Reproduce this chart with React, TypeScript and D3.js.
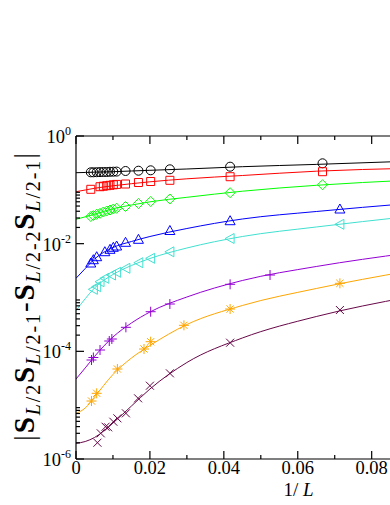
import React from 'react';
import * as d3 from 'd3';

// ---- data ----
const fitX = [0, 0.0025, 0.005, 0.01, 0.015, 0.02, 0.03, 0.045, 0.065, 0.09];

const fitBlack = [0.208, 0.2103, 0.2126, 0.2172, 0.2238, 0.2306, 0.2438, 0.269, 0.2968, 0.3402];
const fitRed = [0.0923, 0.0993, 0.1068, 0.1188, 0.13, 0.141, 0.1603, 0.1846, 0.2219, 0.2512];
const fitGreen = [0.02835, 0.03155, 0.0351, 0.04461, 0.05226, 0.05991, 0.07266, 0.0943, 0.1214, 0.151];
const fitBlue = [0.002273, 0.003456, 0.005189, 0.008485, 0.01097, 0.01358, 0.01912, 0.02871, 0.03958, 0.05572];
const fitCyan = [0.000573, 0.00095, 0.001501, 0.002674, 0.003929, 0.005302, 0.008305, 0.01358, 0.0204, 0.03196];
const fitPurple = [3.06e-5, 4.92e-5, 8.01e-5, 1.845e-4, 3.358e-4, 5.376e-4, 1.021e-3, 2.068e-3, 3.764e-3, 6.706e-3];
const fitOrange = [7.06e-6, 8.85e-6, 1.417e-5, 3.71e-5, 7.51e-5, 1.282e-4, 3.148e-4, 7.1e-4, 1.469e-3, 3.105e-3];
const fitMaroon = [1.955e-6, 2.112e-6, 2.506e-6, 4.66e-6, 9.64e-6, 1.995e-5, 6.2e-5, 1.768e-4, 4.43e-4, 1.021e-3];

const blackX = [0.0667, 0.0417, 0.0254, 0.0202, 0.0169, 0.0134, 0.011, 0.0101, 0.0092, 0.0083, 0.0074, 0.0065, 0.0056, 0.0047, 0.004];
const blackY = [0.3111, 0.269, 0.2406, 0.2306, 0.2266, 0.2238, 0.2182, 0.2172, 0.2163, 0.2144, 0.2144, 0.2135, 0.2126, 0.2117, 0.2117];

const redX = [0.004, 0.0065, 0.0074, 0.0083, 0.0092, 0.0101, 0.011, 0.0134, 0.0169, 0.0202, 0.0254, 0.0417, 0.0667];
const redY = [0.1023, 0.1143, 0.1168, 0.1193, 0.1214, 0.124, 0.1261, 0.1283, 0.1368, 0.1428, 0.1503, 0.1753, 0.2172];

const greenX = [0.0667, 0.0417, 0.0254, 0.0202, 0.0169, 0.0134, 0.011, 0.0101, 0.0092, 0.0083, 0.0074, 0.0065, 0.0056, 0.0047, 0.004];
const greenY = [0.1245, 0.0885, 0.0676, 0.0607, 0.0557, 0.049, 0.0454, 0.044, 0.0422, 0.0404, 0.0387, 0.0366, 0.0351, 0.0333, 0.032];

const blueX = [0.004, 0.0047, 0.0056, 0.0078, 0.0092, 0.0101, 0.011, 0.0134, 0.0169, 0.0254, 0.0417, 0.0714];
const blueY = [0.004372, 0.005035, 0.005724, 0.007087, 0.007858, 0.008558, 0.009049, 0.0106, 0.01205, 0.01756, 0.0267, 0.04404];

const cyanX = [0.0047, 0.0056, 0.0065, 0.0078, 0.0096, 0.011, 0.0135, 0.017, 0.0202, 0.0254, 0.0417, 0.0714];
const cyanY = [0.001419, 0.001586, 0.001965, 0.002273, 0.002617, 0.002937, 0.003485, 0.004429, 0.005346, 0.00706, 0.01247, 0.02289];

const purpleX = [0.0042, 0.0047, 0.0065, 0.009, 0.0097, 0.0135, 0.0202, 0.0254, 0.0417, 0.0525];
const purpleY = [6.9e-5, 7.68e-5, 1.058e-4, 1.555e-4, 1.694e-4, 2.793e-4, 5.445e-4, 7.57e-4, 1.758e-3, 2.617e-3];

const orangeX = [0.0042, 0.0056, 0.0112, 0.0184, 0.0202, 0.0292, 0.0417, 0.0714];
const orangeY = [1.194e-5, 1.66e-5, 4.694e-5, 1.104e-4, 1.51e-4, 3.043e-4, 6.11e-4, 1.834e-3];

const maroonX = [0.0058, 0.0067, 0.008, 0.0087, 0.0101, 0.0112, 0.0135, 0.0168, 0.02, 0.0254, 0.0417, 0.0714];
const maroonY = [2.006e-6, 2.999e-6, 3.977e-6, 3.877e-6, 4.925e-6, 5.697e-6, 7.057e-6, 1.34e-5, 2.298e-5, 3.904e-5, 1.446e-4, 5.855e-4];

const xMajorTicks = [0, 0.02, 0.04, 0.06, 0.08, 0.1];
const xMinorTicks = [0.01, 0.03, 0.05, 0.07, 0.09, 0.11];
const xTickLabels = ['0', '0.02', '0.04', '0.06', '0.08'];
const yMajorExp = [0, -2, -4, -6];
const yMinorMult = [2, 3, 4, 5, 6, 7, 8, 9];

type Shape = 'circle' | 'square' | 'diamond' | 'triUp' | 'triLeft' | 'plus' | 'star' | 'cross';

const series: { color: string; shape: Shape; fit: number[]; px: number[]; py: number[] }[] = [
  { color: '#000000', shape: 'circle', fit: fitBlack, px: blackX, py: blackY },
  { color: '#ff0000', shape: 'square', fit: fitRed, px: redX, py: redY },
  { color: '#00ff00', shape: 'diamond', fit: fitGreen, px: greenX, py: greenY },
  { color: '#0000ff', shape: 'triUp', fit: fitBlue, px: blueX, py: blueY },
  { color: '#40e0d0', shape: 'triLeft', fit: fitCyan, px: cyanX, py: cyanY },
  { color: '#9400d3', shape: 'plus', fit: fitPurple, px: purpleX, py: purpleY },
  { color: '#ffa500', shape: 'star', fit: fitOrange, px: orangeX, py: orangeY },
  { color: '#670748', shape: 'cross', fit: fitMaroon, px: maroonX, py: maroonY },
];

const W = 390;
const H = 505;
const L = 76;
const T = 136;
const B = 459;
const XMAX = 0.12;
const R = L + XMAX * 3696;

function markerPath(shape: Shape, cx: number, cy: number): string {
  const p = d3.path();
  switch (shape) {
    case 'circle':
      p.moveTo(cx + 4.5, cy);
      p.arc(cx, cy, 4.5, 0, Math.PI * 2);
      break;
    case 'square':
      p.rect(cx - 4, cy - 4, 8, 8);
      break;
    case 'diamond':
      p.moveTo(cx, cy - 5);
      p.lineTo(cx + 5, cy);
      p.lineTo(cx, cy + 5);
      p.lineTo(cx - 5, cy);
      p.closePath();
      break;
    case 'triUp':
      p.moveTo(cx, cy - 5);
      p.lineTo(cx + 5, cy + 4);
      p.lineTo(cx - 5, cy + 4);
      p.closePath();
      break;
    case 'triLeft':
      p.moveTo(cx - 5, cy);
      p.lineTo(cx + 4, cy - 5);
      p.lineTo(cx + 4, cy + 5);
      p.closePath();
      break;
    case 'plus':
      p.moveTo(cx - 5, cy);
      p.lineTo(cx + 5, cy);
      p.moveTo(cx, cy - 5);
      p.lineTo(cx, cy + 5);
      break;
    case 'star':
      p.moveTo(cx - 5, cy);
      p.lineTo(cx + 5, cy);
      p.moveTo(cx, cy - 5);
      p.lineTo(cx, cy + 5);
      p.moveTo(cx - 3.6, cy - 3.6);
      p.lineTo(cx + 3.6, cy + 3.6);
      p.moveTo(cx - 3.6, cy + 3.6);
      p.lineTo(cx + 3.6, cy - 3.6);
      break;
    case 'cross':
      p.moveTo(cx - 4, cy - 4);
      p.lineTo(cx + 4, cy + 4);
      p.moveTo(cx - 4, cy + 4);
      p.lineTo(cx + 4, cy - 4);
      break;
  }
  return p.toString();
}

export default function App() {
  const x = d3.scaleLinear().domain([0, XMAX]).range([L, R]);
  const y = d3.scaleLog().domain([1e-6, 1]).range([B, T]);
  const line = d3
    .line<[number, number]>()
    .x((d) => x(d[0]))
    .y((d) => y(d[1]))
    .curve(d3.curveMonotoneX);

  const font = "'Liberation Serif', 'Times New Roman', serif";
  const yMinor: number[] = [];
  yMajorExp.forEach((e) => {
    if (e > -6) yMinorMult.forEach((m) => yMinor.push(m * Math.pow(10, e - 2)));
  });

  return (
    <svg width={W} height={H} style={{ position: 'absolute', left: 0, top: 0, background: '#fff' }} fontFamily={font}>
      <defs>
        <clipPath id="plotclip">
          <rect x={L} y={T} width={R - L} height={B - T} />
        </clipPath>
      </defs>
      <rect x={0} y={0} width={W} height={H} fill="#fff" />

      <g clipPath="url(#plotclip)">
        {series.map((s, i) => (
          <path
            key={'l' + i}
            d={line(fitX.map((v, j) => [v, s.fit[j]] as [number, number])) || ''}
            fill="none"
            stroke={s.color}
            strokeWidth={1}
          />
        ))}
        {series.map((s, i) => (
          <g key={'m' + i}>
            {s.px.map((v, j) => (
              <path key={j} d={markerPath(s.shape, x(v), y(s.py[j]))} fill="none" stroke={s.color} strokeWidth={1} />
            ))}
          </g>
        ))}
      </g>

      {/* frame */}
      <g stroke="#000" strokeWidth={1.2} fill="none">
        <line x1={L} y1={T} x2={R} y2={T} />
        <line x1={L} y1={B} x2={R} y2={B} />
        <line x1={L} y1={T} x2={L} y2={B} />
        <line x1={R} y1={T} x2={R} y2={B} />
        {xMajorTicks.map((t) => (
          <g key={'xM' + t}>
            <line x1={x(t)} x2={x(t)} y1={B} y2={B - 8} />
            <line x1={x(t)} x2={x(t)} y1={T} y2={T + 8} />
          </g>
        ))}
        {xMinorTicks.map((t) => (
          <g key={'xm' + t}>
            <line x1={x(t)} x2={x(t)} y1={B} y2={B - 4} />
            <line x1={x(t)} x2={x(t)} y1={T} y2={T + 4} />
          </g>
        ))}
        {yMajorExp.map((e) => (
          <line key={'yM' + e} x1={L} x2={L + 8} y1={y(Math.pow(10, e))} y2={y(Math.pow(10, e))} />
        ))}
        {yMinor.map((v, i) => (
          <line key={'ym' + i} x1={L} x2={L + 4} y1={y(v)} y2={y(v)} />
        ))}
      </g>

      {/* x tick labels */}
      {xTickLabels.map((lab, i) => (
        <text key={'xl' + lab} x={x(xMajorTicks[i])} y={474} fontSize={18.5} textAnchor="middle" fill="#000">
          {lab}
        </text>
      ))}

      {/* y tick labels */}
      {yMajorExp.map((e) => (
        <text key={'yl' + e} x={71} y={y(Math.pow(10, e)) + 7} fontSize={18.5} textAnchor="end" fill="#000">
          10
          <tspan fontSize={12} dy={-8}>
            {String(e)}
          </tspan>
        </text>
      ))}

      {/* x title */}
      <text x={298.5} y={496} fontSize={19} textAnchor="middle" fill="#000">
        1/ <tspan fontStyle="italic">L</tspan>
      </text>

      {/* y title */}
      <g transform="translate(34,297) rotate(-90)">
        <text x={0} y={0} fontSize={29} textAnchor="middle" fill="#000" textLength={288} lengthAdjust="spacing">
          |<tspan fontWeight="bold">S</tspan>
          <tspan fontSize={20} dy={6}><tspan fontStyle="italic">L</tspan>/2</tspan>
          <tspan fontWeight="bold" dy={-6}>S</tspan>
          <tspan fontSize={20} dy={6}><tspan fontStyle="italic">L</tspan>/2-1</tspan>
          <tspan dy={-6}>-</tspan>
          <tspan fontWeight="bold">S</tspan>
          <tspan fontSize={20} dy={6}><tspan fontStyle="italic">L</tspan>/2-2</tspan>
          <tspan fontWeight="bold" dy={-6}>S</tspan>
          <tspan fontSize={20} dy={6}><tspan fontStyle="italic">L</tspan>/2-1</tspan>
          <tspan dy={-6}>|</tspan>
        </text>
      </g>
    </svg>
  );
}
